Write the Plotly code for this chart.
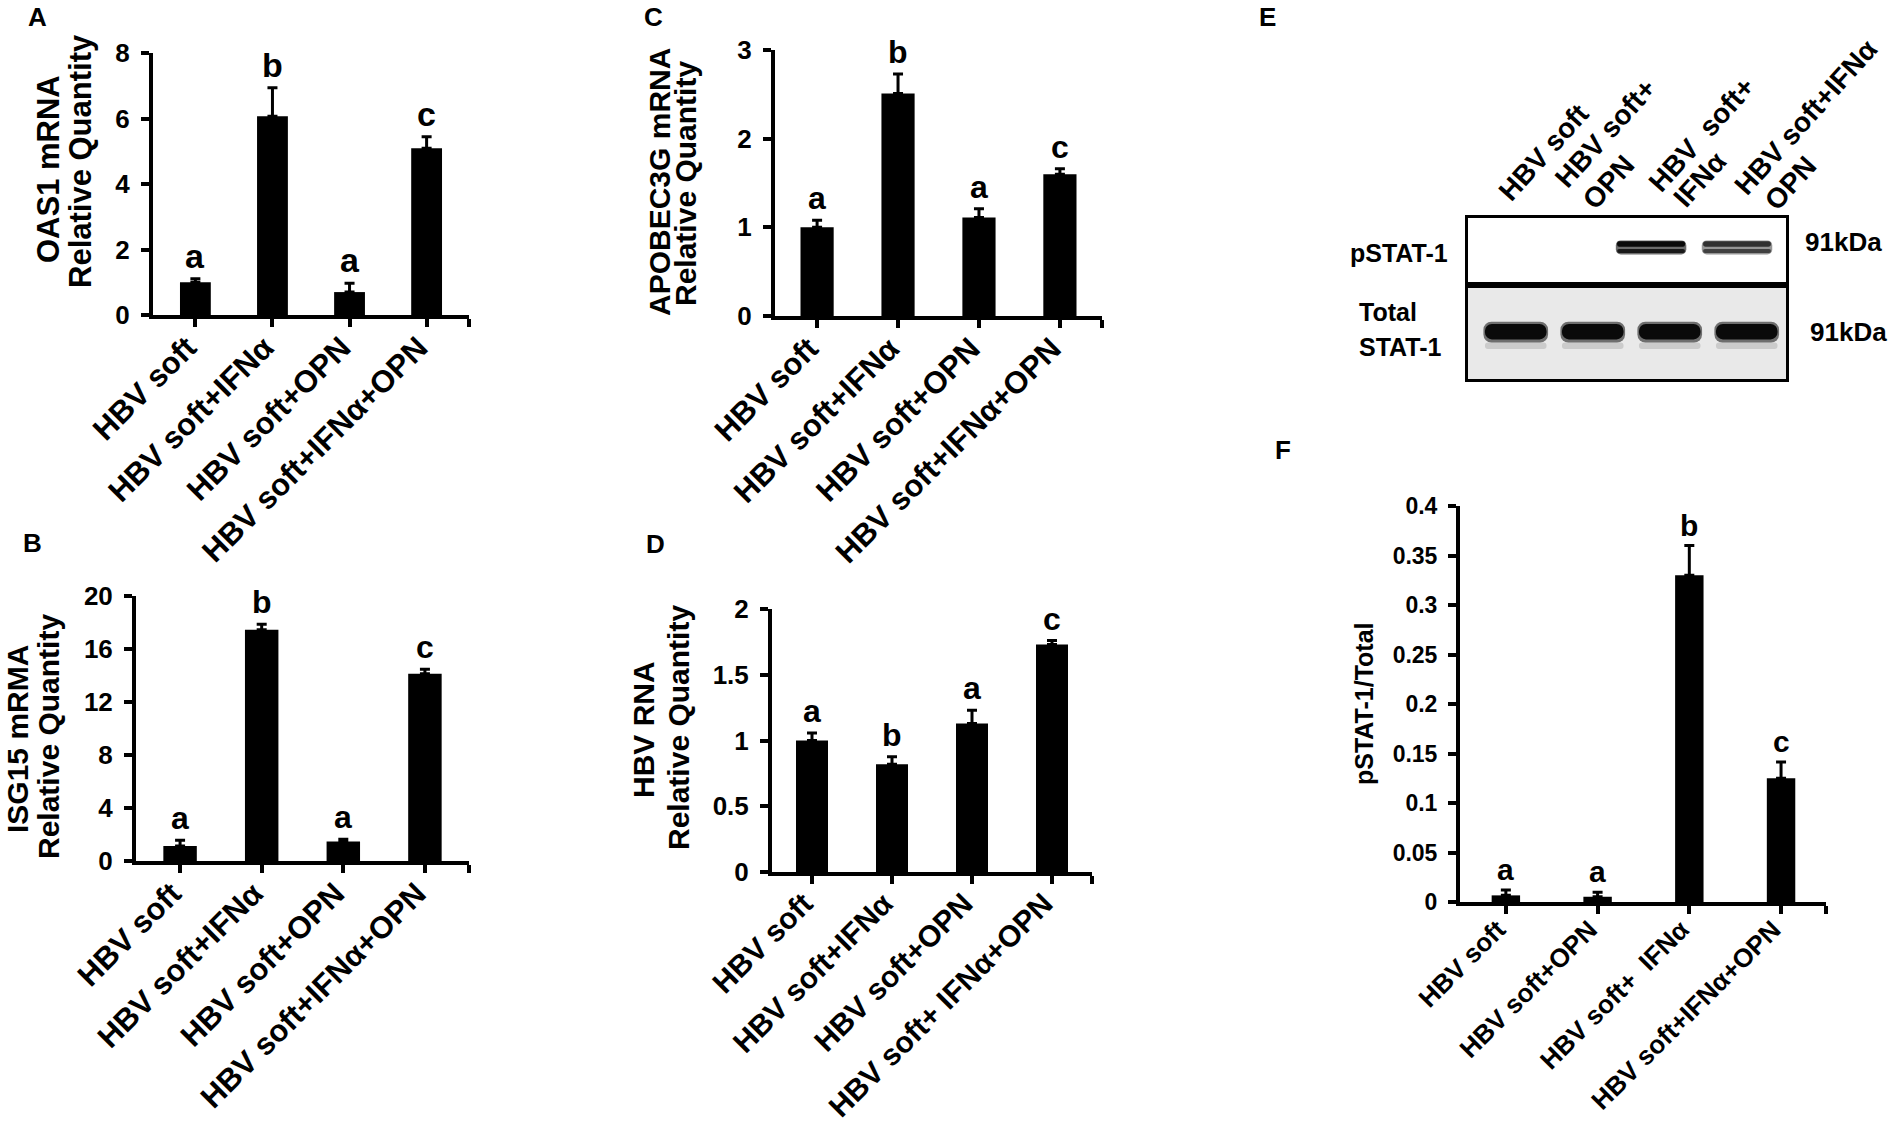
import plotly.graph_objects as go

W, H = 1889, 1128
FONT = "Arial, Liberation Sans, sans-serif"

# ---------------- data ----------------
lanes = [0, 1, 2, 3]

cats_abc = ["HBV soft", "HBV soft+IFNα", "HBV soft+OPN", "HBV soft+IFNα+OPN"]
cats_d = ["HBV soft", "HBV soft+IFNα", "HBV soft+OPN", "HBV soft+ IFNα+OPN"]
cats_f = ["HBV soft", "HBV soft+OPN", "HBV soft+\u00a0 IFNα", "HBV soft+IFNα+OPN"]

oas1 = [1.0, 6.07, 0.70, 5.09]
oas1_err = [0.11, 0.87, 0.27, 0.35]
oas1_sig = ["a", "b", "a", "c"]

isg15 = [1.13, 17.45, 1.47, 14.13]
isg15_err = [0.43, 0.42, 0.18, 0.34]
isg15_sig = ["a", "b", "a", "c"]

apobec = [1.0, 2.51, 1.11, 1.60]
apobec_err = [0.08, 0.22, 0.10, 0.06]
apobec_sig = ["a", "b", "a", "c"]

hbv_rna = [1.0, 0.82, 1.13, 1.73]
hbv_rna_err = [0.057, 0.057, 0.10, 0.03]
hbv_rna_sig = ["a", "b", "a", "c"]

pstat_ratio = [0.0067, 0.0053, 0.33, 0.125]
pstat_ratio_err = [0.0053, 0.0045, 0.03, 0.0165]
pstat_ratio_sig = ["a", "a", "b", "c"]
f_ticks = [0, 0.05, 0.1, 0.15, 0.2, 0.25, 0.3, 0.35, 0.4]
f_ticklabels = ["0", "0.05", "0.1", "0.15", "0.2", "0.25", "0.3", "0.35", "0.4"]

# western blot (panel E): lane label lines and relative band intensity per lane
blot_lane_lines = [["HBV soft"], ["HBV soft+", "OPN"], ["HBV\u00a0 soft+", "IFNα"], ["HBV soft+IFNα", "OPN"]]
pstat_band = [0.0, 0.0, 1.0, 0.72]
total_band = [1.0, 1.0, 1.0, 1.0]


def fx(p):
    return p / W


def fy(p):
    return 1 - p / H


def bold(size):
    return dict(family=FONT, size=size, color="black", weight="bold")


# panel geometry in pixels: (left, right, top, bottom)
panels = [
    dict(box=(153, 469, 53, 315), xr=[-0.55, 3.55], yr=[0, 8], dtick=2, vals=oas1, err=oas1_err,
         sig=oas1_sig, cats=cats_abc, bw=0.4, tfs=26, cfs=31, sfs=34, tts=31,
         titles=[("OAS1 mRNA", 49, 169), ("Relative Quantity", 81, 161)]),
    dict(box=(136, 469, 596, 861), xr=[-0.54, 3.54], yr=[0, 20], dtick=4, vals=isg15, err=isg15_err,
         sig=isg15_sig, cats=cats_abc, bw=0.41, tfs=26, cfs=31, sfs=32, tts=30,
         titles=[("ISG15 mRMA", 17, 739), ("Relative Quantity", 48, 737)]),
    dict(box=(775, 1102, 50, 316), xr=[-0.52, 3.52], yr=[0, 3], dtick=1, vals=apobec, err=apobec_err,
         sig=apobec_sig, cats=cats_abc, bw=0.41, tfs=26, cfs=31, sfs=32, tts=30,
         titles=[("APOBEC3G mRNA", 659, 182), ("Relative Quantity", 685, 184)]),
    dict(box=(772, 1092, 609, 872), xr=[-0.5, 3.5], yr=[0, 2], dtick=0.5, vals=hbv_rna, err=hbv_rna_err,
         sig=hbv_rna_sig, cats=cats_d, bw=0.4, tfs=26, cfs=30, sfs=32, tts=30,
         titles=[("HBV RNA", 643, 730), ("Relative Quantity", 678, 728)]),
    dict(box=(1460, 1826, 506, 902), xr=[-0.5, 3.49], yr=[0, 0.4], dtick=None, vals=pstat_ratio,
         err=pstat_ratio_err, sig=pstat_ratio_sig, cats=cats_f, bw=0.31, tfs=23, cfs=26, sfs=30, tts=25,
         titles=[("pSTAT-1/Total", 1364, 704)]),
]

fig = go.Figure()
annotations = []
layout = {}

for i, p in enumerate(panels, start=1):
    sfx = "" if i == 1 else str(i)
    l, r, t, b = p["box"]
    fig.add_trace(go.Bar(
        x=lanes, y=p["vals"], width=p["bw"], xaxis="x" + sfx, yaxis="y" + sfx,
        marker=dict(color="black", line=dict(width=0)),
        error_y=dict(type="data", symmetric=False, array=p["err"], arrayminus=[0] * 4,
                     color="black", thickness=3, width=5),
        showlegend=False, hoverinfo="skip"))

    layout["xaxis" + sfx] = dict(
        domain=[fx(l), fx(r)], range=p["xr"], anchor="y" + sfx, automargin=False,
        tickvals=lanes + [p["xr"][1]], ticktext=p["cats"] + [""], tickangle=-45,
        showline=True, linewidth=4, linecolor="black", ticks="outside", ticklen=8,
        tickwidth=4, tickcolor="black", showgrid=False, zeroline=False,
        ticklabelstandoff=-10, ticklabelshift=-8,
        tickfont=bold(p["cfs"]), fixedrange=True)
    yax = dict(
        domain=[fy(b), fy(t)], range=p["yr"], anchor="x" + sfx, automargin=False,
        showline=True, linewidth=4, linecolor="black", ticks="outside", ticklen=8,
        tickwidth=4, tickcolor="black", showgrid=False, zeroline=False,
        tickfont=bold(p["tfs"]), ticklabelstandoff=6, fixedrange=True)
    if p["dtick"] is None:
        yax.update(tickvals=f_ticks, ticktext=f_ticklabels)
    else:
        yax.update(tick0=0, dtick=p["dtick"])
    layout["yaxis" + sfx] = yax

    # significance letters
    for k in lanes:
        annotations.append(dict(
            x=k, y=p["vals"][k] + p["err"][k], xref="x" + sfx, yref="y" + sfx,
            text=p["sig"][k], showarrow=False, yanchor="bottom", yshift=2,
            font=bold(p["sfs"])))

    # y axis titles (each line placed separately, tight leading)
    for txt, cx, cy in p["titles"]:
        annotations.append(dict(
            x=fx(cx), y=fy(cy), xref="paper", yref="paper", text=txt, textangle=-90,
            showarrow=False, xanchor="center", yanchor="middle", font=bold(p["tts"])))

# ---------------- panel E: western blot ----------------
blot_axis = dict(showline=True, mirror=True, linewidth=2.5, linecolor="black", automargin=False,
                 showticklabels=False, ticks="", showgrid=False, zeroline=False, fixedrange=True)
# pSTAT-1 strip (axes 6) and total STAT-1 strip (axes 7)
layout["xaxis6"] = dict(blot_axis, domain=[fx(1468), fx(1786)], range=[-0.13, 3.57], anchor="y6")
layout["yaxis6"] = dict(blot_axis, domain=[fy(282), fy(218)], range=[-1, 1], anchor="x6")
layout["xaxis7"] = dict(blot_axis, domain=[fx(1468), fx(1786)], range=[-0.62, 3.51], anchor="y7")
layout["yaxis7"] = dict(blot_axis, domain=[fy(379), fy(288)], range=[-1, 1], anchor="x7")


def band(xa, ya, intensity, center, thick, width, alpha_scale=1.0, radius=6):
    fig.add_trace(go.Bar(
        x=lanes, y=[thick] * 4, base=[center - thick / 2] * 4, width=width,
        xaxis=xa, yaxis=ya,
        marker=dict(color=[f"rgba(10,10,10,{min(v * alpha_scale, 1):.3f})" for v in intensity],
                    line=dict(width=0), cornerradius=radius),
        showlegend=False, hoverinfo="skip"))


# pSTAT-1 bands: soft halo + doublet core
band("x6", "y6", pstat_band, 0.08, 0.44, 0.82, 0.6, 5)
band("x6", "y6", pstat_band, 0.19, 0.17, 0.79, 1.0, 3)
band("x6", "y6", pstat_band, -0.03, 0.12, 0.79, 0.85, 3)
# total STAT-1 bands: faint lower band, halo, dark core
band("x7", "y7", total_band, -0.27, 0.14, 0.80, 0.13, 3)
band("x7", "y7", total_band, 0.03, 0.46, 0.84, 0.55, 8)
band("x7", "y7", total_band, 0.04, 0.34, 0.80, 1.0, 7)

shapes = [dict(type="rect", xref="x7 domain", yref="y7 domain", x0=0, x1=1, y0=0, y1=1,
               fillcolor="#e9e9e9", line=dict(width=0), layer="below")]

# lane labels: one rotated annotation per text line (centres in px)
lane_line_pos = [[(1544, 153)], [(1605, 133), (1608, 182)], [(1702, 135), (1700, 180)],
                 [(1806, 118), (1790, 183)]]
for lines, pos in zip(blot_lane_lines, lane_line_pos):
    for txt, (cx, cy) in zip(lines, pos):
        annotations.append(dict(x=fx(cx), y=fy(cy), xref="paper", yref="paper", text=txt,
                                textangle=-48, showarrow=False,
                                xanchor="center", yanchor="middle", font=bold(28)))

# row labels and size markers
for txt, lx, cy in [("pSTAT-1", 1348, 253), ("Total", 1357, 312), ("STAT-1", 1357, 347),
                    ("91kDa", 1803, 242), ("91kDa", 1808, 332)]:
    annotations.append(dict(x=fx(lx), y=fy(cy), xref="paper", yref="paper", text=txt,
                            showarrow=False, xanchor="left", yanchor="middle",
                            font=bold(26 if "kDa" in txt else 25)))

# panel letters
for txt, lx, cy in [("A", 37, 17), ("B", 32, 543), ("C", 653, 17), ("D", 655, 544),
                    ("E", 1267, 17), ("F", 1283, 450)]:
    annotations.append(dict(x=fx(lx), y=fy(cy), xref="paper", yref="paper", text=txt,
                            showarrow=False, xanchor="center", yanchor="middle", font=bold(26)))

fig.update_layout(
    width=W, height=H, margin=dict(l=0, r=0, t=0, b=0, autoexpand=False),
    paper_bgcolor="white", plot_bgcolor="white",
    barmode="overlay", showlegend=False,
    font=dict(family=FONT, color="black"),
    annotations=annotations, shapes=shapes,
    **layout)

# the page body has a default 8px margin; drop it so the figure fills the window exactly
fig.write_html("out.html", config={"displayModeBar": False},
               post_script="document.body.style.margin='0';"
                           "document.documentElement.style.overflow='hidden';")
